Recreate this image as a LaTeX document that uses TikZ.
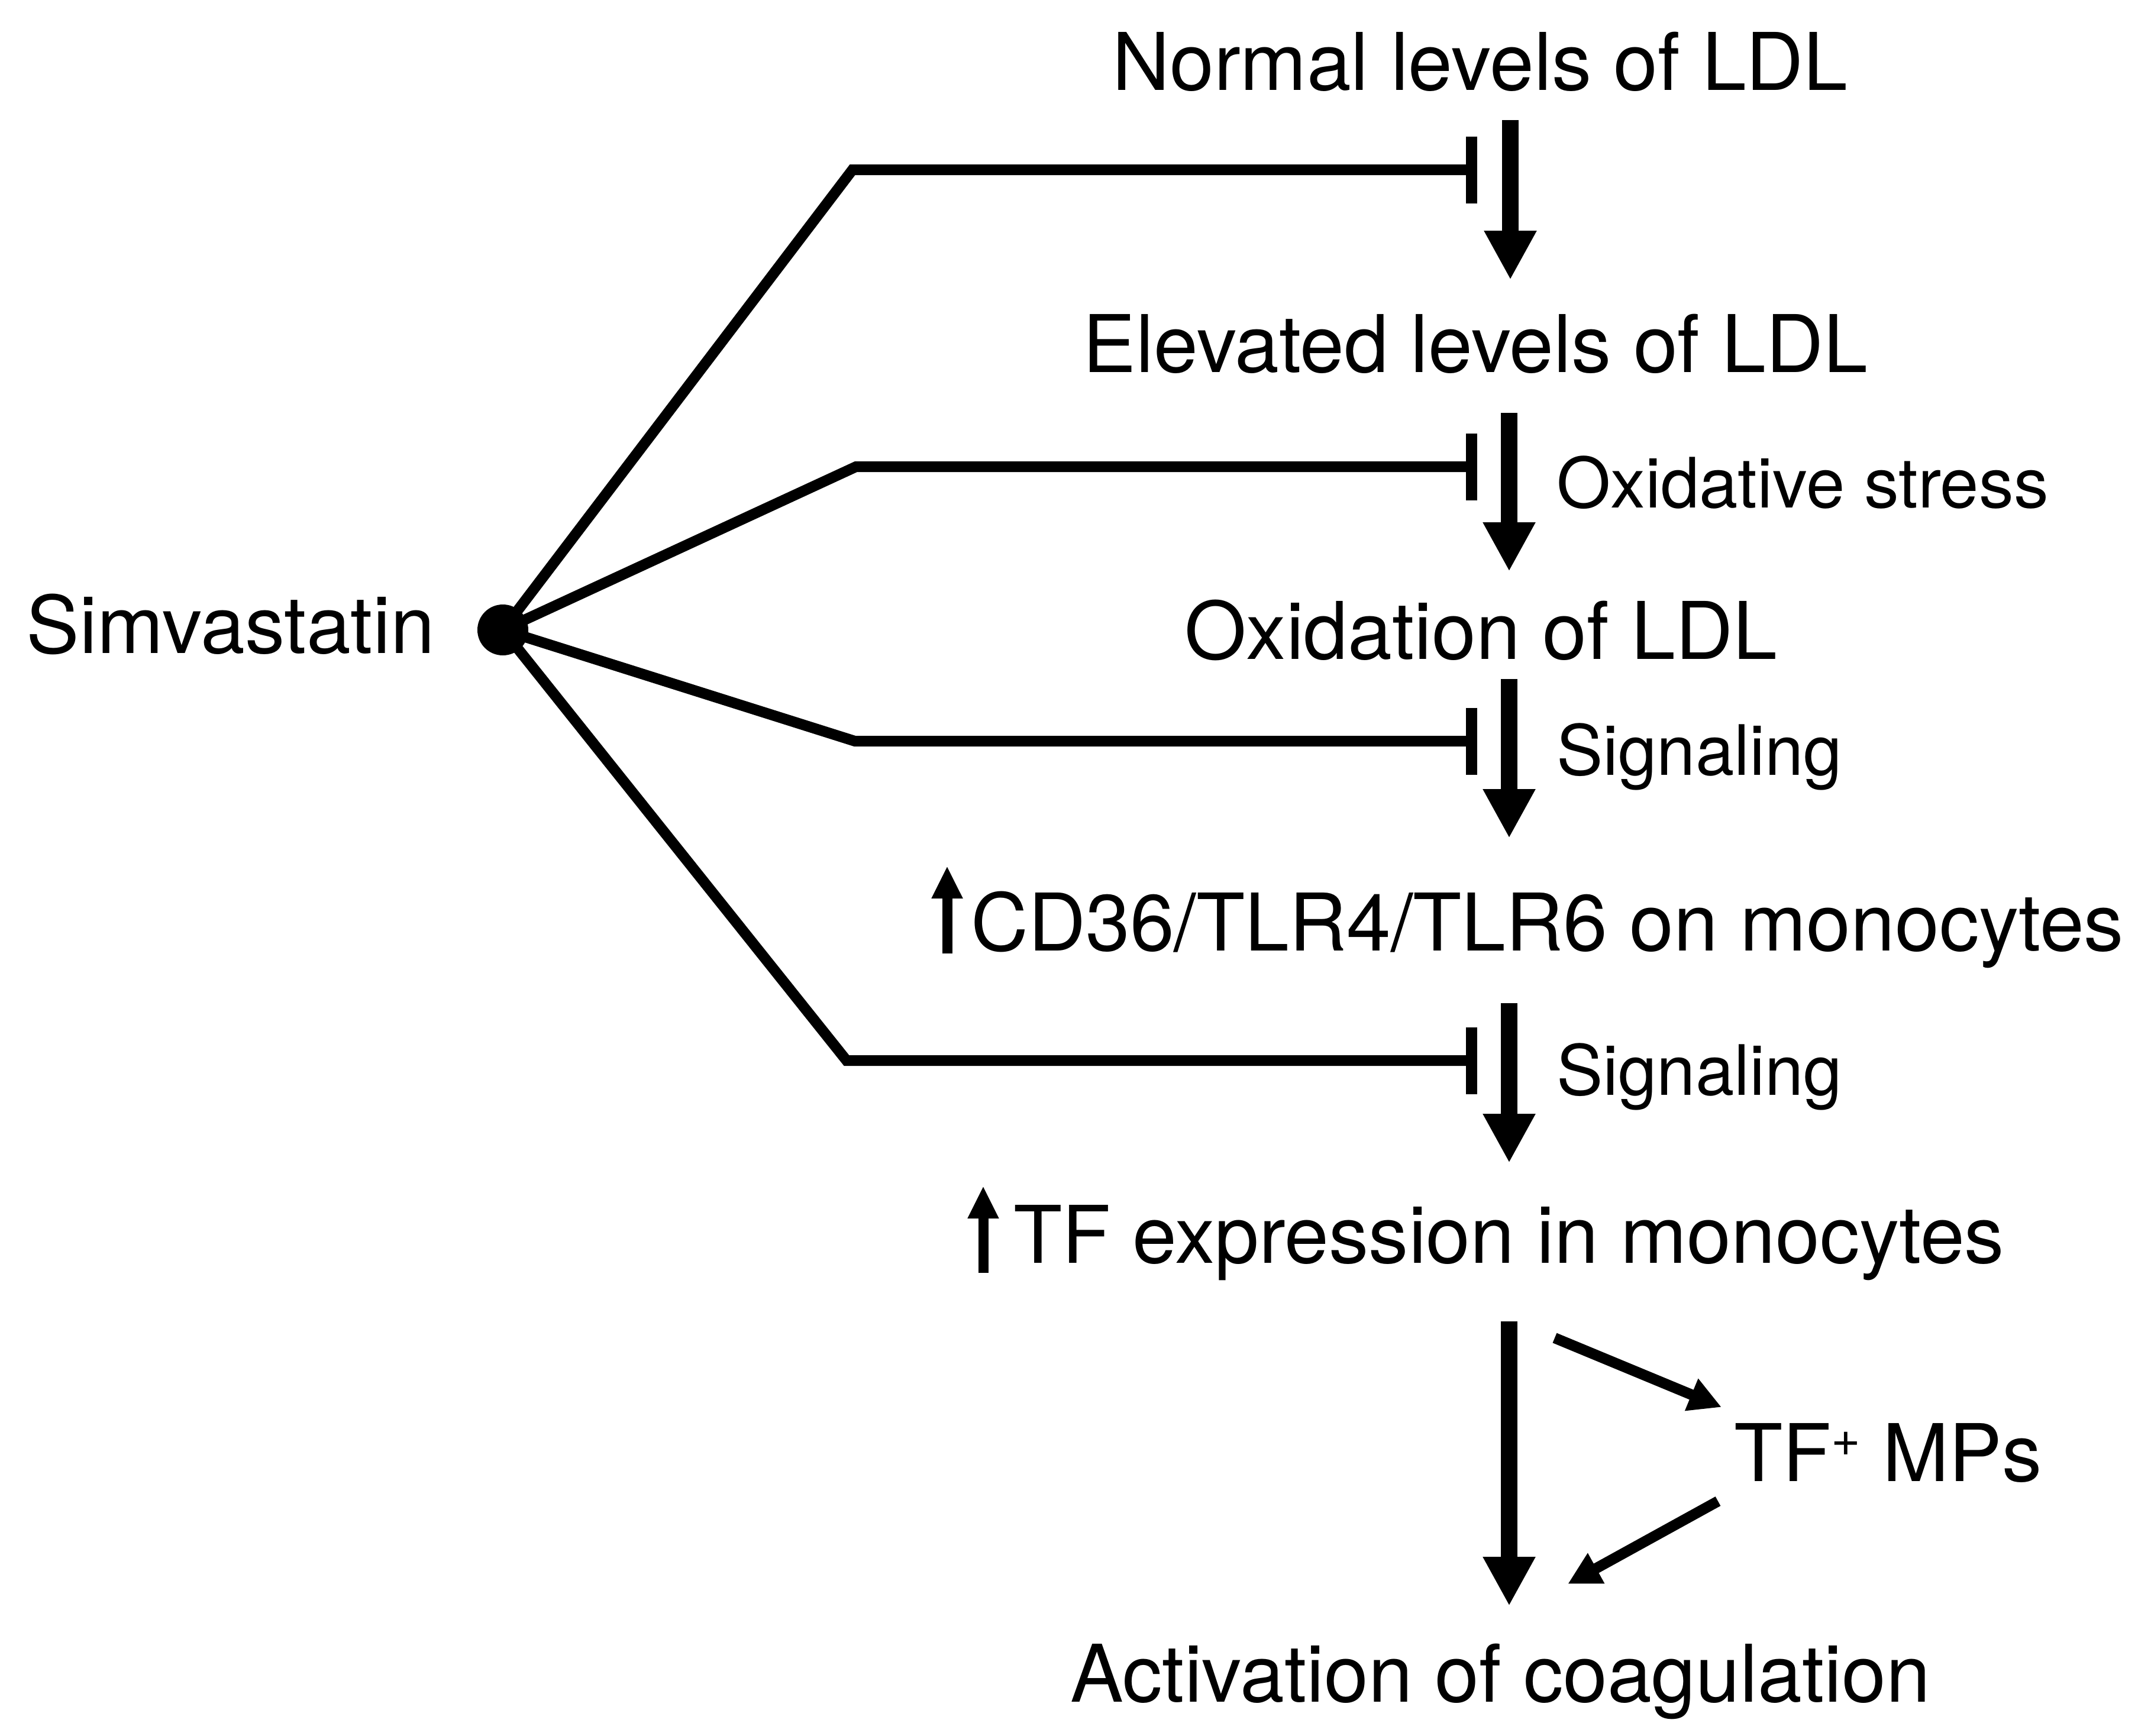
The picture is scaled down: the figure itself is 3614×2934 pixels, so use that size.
\documentclass[tikz,border=0pt]{standalone}
\usepackage{fontspec}
\setmainfont{TeX Gyre Heros}
\usetikzlibrary{arrows.meta}
\begin{document}
\begin{tikzpicture}[x=0.2pt,y=-0.2pt,
  lbl/.style={inner sep=0pt, font=\fontsize{26.9pt}{30pt}\selectfont},
  sml/.style={inner sep=0pt, font=\fontsize{23.5pt}{27pt}\selectfont},
  branch/.style={line width=3.6pt, line join=miter, -{Bar[width=22.6pt,line width=3.8pt]}},
  flow/.style={line width=5.6pt, -{Triangle[length=16.6pt,width=16.6pt]}},
  side/.style={line width=3.6pt, -{Triangle[length=11pt,width=11pt]}},
  uparr/.style={line width=3.4pt, -{Triangle[length=11pt,width=9.8pt]}}]
\useasboundingbox (0,0) rectangle (3614,2934);

% texts
\node[lbl, anchor=base west] (simva) at (44,1104) {Simvastatin};
\node[lbl, anchor=base] (normal) at (2502,152) {Normal levels of LDL};
\node[lbl, anchor=base] (elev) at (2494,629) {Elevated levels of LDL};
\node[sml, anchor=base west] (oxs) at (2630,858) {Oxidative stress};
\node[lbl, anchor=base] (oxld) at (2503,1114) {Oxidation of LDL};
\node[sml, anchor=base west] (sig1) at (2630,1310) {Signaling};
\node[lbl, anchor=base west] (cd36) at (1640,1607) {CD36/TLR4/TLR6 on monocytes};
\node[sml, anchor=base west] (sig2) at (2630,1851) {Signaling};
\node[lbl, anchor=base west] (tfexp) at (1712,2135) {TF expression in monocytes};
\node[lbl, anchor=base west] (tfmp) at (2930,2504) {TF\raisebox{8.5pt}{\fontsize{17pt}{19pt}\selectfont +} MPs};
\node[lbl, anchor=base] (coag) at (2536,2877) {Activation of coagulation};

% central dot
\node[circle, fill=black, inner sep=0pt, minimum size=17.2pt] (dot) at (850,1065) {};

% branch geometry
\coordinate (k1) at (1441,287);  \coordinate (e1) at (2497,287);
\coordinate (k2) at (1447,789);  \coordinate (e2) at (2497,789);
\coordinate (k3) at (1445,1253); \coordinate (e3) at (2497,1253);
\coordinate (k4) at (1431,1793); \coordinate (e4) at (2497,1793);

\draw[branch] (dot.center) -- (k1) -- (e1);
\draw[branch] (dot.center) -- (k2) -- (e2);
\draw[branch] (dot.center) -- (k3) -- (e3);
\draw[branch] (dot.center) -- (k4) -- (e4);

% main flow arrows
\coordinate (a1s) at (2553,203);  \coordinate (a1e) at (2553,473);
\coordinate (a2s) at (2551,698);  \coordinate (a2e) at (2551,966);
\coordinate (a3s) at (2551,1148); \coordinate (a3e) at (2551,1417);
\coordinate (a4s) at (2551,1696); \coordinate (a4e) at (2551,1966);
\coordinate (a5s) at (2551,2234); \coordinate (a5e) at (2551,2715);
\draw[flow] (a1s) -- (a1e);
\draw[flow] (a2s) -- (a2e);
\draw[flow] (a3s) -- (a3e);
\draw[flow] (a4s) -- (a4e);
\draw[flow] (a5s) -- (a5e);

% side arrows via TF+ MPs
\coordinate (d1s) at (2628,2262); \coordinate (d1e) at (2910,2379);
\coordinate (d2s) at (2904,2538); \coordinate (d2e) at (2650,2678);
\draw[side] (d1s) -- (d1e);
\draw[side] (d2s) -- (d2e);

% small up arrows
\coordinate (u1s) at (1601,1612); \coordinate (u1e) at (1601,1464);
\coordinate (u2s) at (1662,2152); \coordinate (u2e) at (1662,2005);
\draw[uparr] (u1s) -- (u1e);
\draw[uparr] (u2s) -- (u2e);
\end{tikzpicture}
\end{document}
